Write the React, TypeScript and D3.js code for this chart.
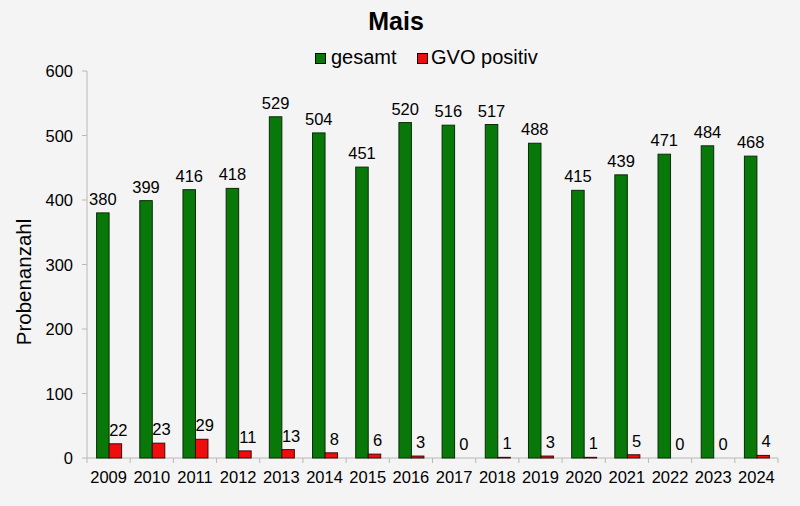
import React from 'react';
import * as d3 from 'd3';

const years = ['2009', '2010', '2011', '2012', '2013', '2014', '2015', '2016', '2017', '2018', '2019', '2020', '2021', '2022', '2023', '2024'];
const gesamt = [380, 399, 416, 418, 529, 504, 451, 520, 516, 517, 488, 415, 439, 471, 484, 468];
const gvoPositiv = [22, 23, 29, 11, 13, 8, 6, 3, 0, 1, 3, 1, 5, 0, 0, 4];
const yTicks = [0, 100, 200, 300, 400, 500, 600];

const W = 800;
const H = 506;
const margin = { top: 71, right: 22, bottom: 48, left: 87 };

const GREEN = '#087808';
const RED = '#f00d0d';

const App: React.FC = () => {
  const x = d3.scaleBand<string>()
    .domain(years)
    .range([margin.left, W - margin.right]);

  const y = d3.scaleLinear()
    .domain([0, 600])
    .range([H - margin.bottom, margin.top]);

  const barW = 12.5;
  const groupOffset = (x.bandwidth() - 2 * barW) / 2 + 0.5;
  const font = 'Arial, "Liberation Sans", Helvetica, sans-serif';
  const y0 = y(0);

  return (
    <div style={{ position: 'absolute', left: 0, top: 0 }}>
      <svg width={W} height={H} viewBox={`0 0 ${W} ${H}`} fontFamily={font}>
        <rect width={W} height={H} fill="#f4f4f4" />

        {/* Title */}
        <text x={396} y={30} textAnchor="middle" fontSize={25} fontWeight="bold" fill="#000">Mais</text>

        {/* Legend */}
        <rect x={315.5} y={53.5} width={10} height={10} fill={GREEN} stroke="#000" strokeWidth={1} />
        <text x={331} y={64} fontSize={20} fill="#000">gesamt</text>
        <rect x={417.5} y={53.5} width={10} height={10} fill={RED} stroke="#000" strokeWidth={1} />
        <text x={431} y={64} fontSize={20} fill="#000">GVO positiv</text>

        {/* Y axis */}
        <line x1={margin.left} x2={margin.left} y1={y(600)} y2={y0} stroke="#b8b8b8" />
        {yTicks.map(t => (
          <g key={`yt-${t}`}>
            <line x1={margin.left - 5} x2={margin.left} y1={y(t)} y2={y(t)} stroke="#b8b8b8" />
            <text x={73} y={y(t) + 6} textAnchor="end" fontSize={16.5} fill="#000">{t}</text>
          </g>
        ))}
        <text
          transform={`translate(31, 282) rotate(-90)`}
          textAnchor="middle"
          fontSize={20.5}
          fill="#000"
        >
          Probenanzahl
        </text>

        {/* X axis */}
        <line x1={margin.left} x2={W - margin.right} y1={y0} y2={y0} stroke="#b8b8b8" />
        {years.map(yr => (
          <line key={`xt-${yr}`} x1={x(yr)!} x2={x(yr)!} y1={y0} y2={y0 + 5} stroke="#b8b8b8" />
        ))}
        <line x1={W - margin.right} x2={W - margin.right} y1={y0} y2={y0 + 5} stroke="#b8b8b8" />
        {years.map(yr => (
          <text key={`xl-${yr}`} x={x(yr)! + x.bandwidth() / 2} y={y0 + 25} textAnchor="middle" fontSize={16.5} fill="#000">{yr}</text>
        ))}

        {/* Bars */}
        {years.map((yr, i) => {
          const gx = x(yr)! + groupOffset;
          const rx = gx + barW;
          return (
            <g key={`bar-${yr}`}>
              <rect x={gx} y={y(gesamt[i])} width={barW} height={y0 - y(gesamt[i])} fill={GREEN} stroke="#0b2a0b" strokeWidth={1} />
              <rect x={rx} y={y(gvoPositiv[i])} width={barW} height={Math.max(0, y0 - y(gvoPositiv[i]))} fill={RED} stroke="#3a0a0a" strokeWidth={1} />
              <text x={gx + barW / 2} y={y(gesamt[i]) - 8} textAnchor="middle" fontSize={16.5} fill="#000">{gesamt[i]}</text>
              <text x={rx + barW / 2 + 3} y={y(gvoPositiv[i]) - 8} textAnchor="middle" fontSize={16.5} fill="#000">{gvoPositiv[i]}</text>
            </g>
          );
        })}
      </svg>
    </div>
  );
};

export default App;
